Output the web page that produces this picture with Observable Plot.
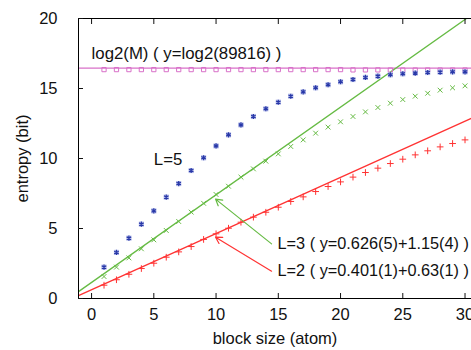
<!DOCTYPE html>
<html><head><meta charset="utf-8">
<script src="https://cdn.jsdelivr.net/npm/d3@7"></script>
<script src="https://cdn.jsdelivr.net/npm/@observablehq/plot@0.6"></script>
<style>
html,body{margin:0;padding:0;background:#fff;}
svg{font-family:"Liberation Sans",Arial,Helvetica,sans-serif;}
</style></head>
<body><div id="chart"></div>
<script>
const blockSize = [1,2,3,4,5,6,7,8,9,10,11,12,13,14,15,16,17,18,19,20,21,22,23,24,25,26,27,28,29,30];
const entropyM  = [16.35,16.35,16.35,16.35,16.35,16.35,16.35,16.35,16.35,16.35,16.35,16.35,16.35,16.35,16.35,16.35,16.35,16.35,16.35,16.35,16.33,16.33,16.33,16.32,16.32,16.32,16.32,16.32,16.32,16.32];
const entropyL5 = [2.24,3.29,4.31,5.31,6.26,7.24,8.21,9.14,10.05,10.9,11.69,12.4,13.0,13.55,14.02,14.45,14.76,15.05,15.27,15.48,15.64,15.79,15.88,15.98,16.05,16.1,16.14,16.17,16.19,16.19];
const entropyL3 = [1.57,2.24,2.9,3.55,4.19,4.86,5.5,6.17,6.8,7.43,8.02,8.67,9.26,9.81,10.33,10.86,11.33,11.81,12.24,12.62,13.0,13.33,13.64,13.95,14.21,14.45,14.66,14.88,15.05,15.19];
const entropyL2 = [0.95,1.34,1.73,2.14,2.52,2.95,3.33,3.71,4.22,4.62,5.02,5.45,5.81,6.16,6.52,6.93,7.26,7.64,8.0,8.33,8.67,9.0,9.31,9.64,9.95,10.26,10.55,10.83,11.07,11.33];
const fitL3 = {slope: 0.626, intercept: 1.15};
const fitL2 = {slope: 0.401, intercept: 0.63};
const M = 89816;
const xTicks = [0,5,10,15,20,25,30];
const yTicks = [0,5,10,15,20];
const xDomain = [-1.05, 30.52];
const yDomain = [0, 20];
const labels = [
  {x: 0, y: 17.5, text: "log2(M) ( y=log2(89816) )", size: 16.8},
  {x: 5, y: 9.93, text: "L=5", size: 16.8},
  {x: 14.94, y: 3.93, text: "L=3 ( y=0.626(5)+1.15(4) )", size: 16.3},
  {x: 14.94, y: 1.98, text: "L=2 ( y=0.401(1)+0.63(1) )", size: 16.3}
];
const arrows = [
  {x1: 14.46, y1: 3.9, x2: 9.96, y2: 7.1, c: "#66bb44"},
  {x1: 14.46, y1: 1.95, x2: 9.96, y2: 4.38, c: "#ff3333"}
];

const pts = (ys) => blockSize.map((x, i) => ({x, y: ys[i]}));
const fitLine = (f) => xDomain.map(x => ({x, y: f.slope * x + f.intercept}));

const green = "#66bb44", red = "#ff3333", pink = "#d870c8", blue = "#2838a8";

const chart = Plot.plot({
  width: 471, height: 350,
  marginLeft: 78, marginRight: 0, marginTop: 18, marginBottom: 52,
  style: {fontSize: "16px", fontFamily: "Liberation Sans, Arial, sans-serif", color: "#111"},
  x: {domain: xDomain},
  y: {domain: yDomain},
  marks: [
    Plot.ruleY([Math.log2(M)], {stroke: pink, strokeWidth: 1.2}),
    Plot.line(fitLine(fitL3), {x: "x", y: "y", stroke: green, strokeWidth: 1.3, clip: true}),
    Plot.line(fitLine(fitL2), {x: "x", y: "y", stroke: red, strokeWidth: 1.3, clip: true}),
    Plot.dot(pts(entropyM), {x: "x", y: "y", symbol: "square", r: 2.4, stroke: pink, strokeWidth: 1, fill: "none"}),
    Plot.dot(pts(entropyL5), {x: "x", y: "y", symbol: "square", r: 2.9, fill: "#b4bbe8", stroke: "none"}),
    Plot.dot(pts(entropyL5), {x: "x", y: "y", symbol: "asterisk", r: 2.4, stroke: blue, strokeWidth: 1.2}),
    Plot.dot(pts(entropyL3), {x: "x", y: "y", symbol: "times", r: 2.3, stroke: green, strokeWidth: 1}),
    Plot.dot(pts(entropyL2), {x: "x", y: "y", symbol: "plus", r: 2.3, stroke: red, strokeWidth: 1}),
    Plot.arrow(arrows, {x1: "x1", y1: "y1", x2: "x2", y2: "y2", stroke: "c", strokeWidth: 1.2, headLength: 9}),
    ...labels.map(l => Plot.text([l], {x: "x", y: "y", text: "text", textAnchor: "start", lineAnchor: "middle", fontSize: l.size, fill: "#111"})),
    Plot.ruleY([yDomain[0], yDomain[1]], {stroke: "#000", strokeWidth: 1}),
    Plot.ruleX([xDomain[0]], {stroke: "#000", strokeWidth: 1}),
    Plot.axisX(xTicks, {anchor: "bottom", tickSize: -5, tickPadding: 15, label: "block size (atom)", labelAnchor: "center", labelArrow: "none", labelOffset: 45, fontSize: 16.5}),
    Plot.axisX(xTicks, {anchor: "top", tickSize: -5, tickFormat: () => "", label: null}),
    Plot.axisY(yTicks, {anchor: "left", tickSize: -5, tickPadding: 26, label: "entropy (bit)", labelAnchor: "center", labelArrow: "none", labelOffset: 62, fontSize: 16.5})
  ]
});
document.getElementById("chart").appendChild(chart);
</script></body></html>
